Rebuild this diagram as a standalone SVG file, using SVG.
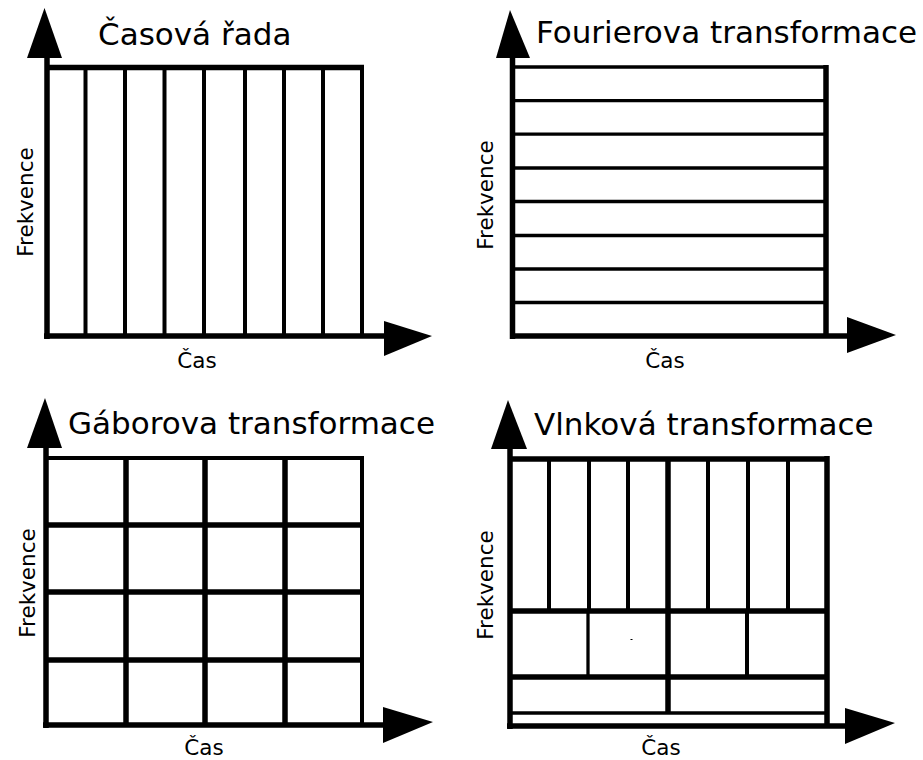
<svg xmlns="http://www.w3.org/2000/svg" width="923" height="760" viewBox="0 0 923 760">
<style>
.title{font-family:"DejaVu Sans",Verdana,sans-serif;font-size:31px;fill:#000}
.lab{font-family:"DejaVu Sans",Verdana,sans-serif;font-size:21.5px;fill:#000}
.ax{stroke:#000;stroke-width:5.5;fill:none}
.g{stroke:#000;stroke-width:4;fill:none}
.gt{stroke:#000;stroke-width:3.3;fill:none}
.gk{stroke:#000;stroke-width:5.5;fill:none}
.head{fill:#000}
</style>
<rect width="923" height="760" fill="#fff"/>

<g id="casova-rada">
  <text class="title" x="98" y="45">Časová řada</text>
  <g class="g">
    <line x1="85.5" y1="67" x2="85.5" y2="336"/>
    <line x1="125" y1="67" x2="125" y2="336"/>
    <line x1="164.5" y1="67" x2="164.5" y2="336"/>
    <line x1="204" y1="67" x2="204" y2="336"/>
    <line x1="245" y1="67" x2="245" y2="336"/>
    <line x1="284" y1="67" x2="284" y2="336"/>
    <line x1="323" y1="67" x2="323" y2="336"/>
    <line x1="362" y1="67" x2="362" y2="336"/>
  </g>
  <line class="ax" x1="45" y1="67.5" x2="364" y2="67.5" stroke-width="5"/>
  <line class="ax" x1="47" y1="339" x2="47" y2="55"/>
  <line class="ax" x1="44" y1="336" x2="388" y2="336"/>
  <polygon class="head" points="27,58 62,58 44.5,8"/>
  <polygon class="head" points="384,321 384,356 432,336"/>
  <text class="lab" x="197" y="368" text-anchor="middle">Čas</text>
  <text class="lab" transform="translate(33,202) rotate(-90)" text-anchor="middle">Frekvence</text>
</g>

<g id="fourierova-transformace">
  <text class="title" x="536" y="43">Fourierova transformace</text>
  <g class="gt">
    <line x1="512" y1="67" x2="826" y2="67"/>
    <line x1="512" y1="100.6" x2="826" y2="100.6"/>
    <line x1="512" y1="134.2" x2="826" y2="134.2"/>
    <line x1="512" y1="168" x2="826" y2="168"/>
    <line x1="512" y1="201.5" x2="826" y2="201.5"/>
    <line x1="512" y1="235.5" x2="826" y2="235.5"/>
    <line x1="512" y1="269" x2="826" y2="269"/>
    <line x1="512" y1="302.5" x2="826" y2="302.5"/>
  </g>
  <line class="gk" x1="826" y1="65" x2="826" y2="336"/>
  <line class="ax" x1="512.5" y1="339" x2="512.5" y2="55"/>
  <line class="ax" x1="510" y1="336" x2="850" y2="336"/>
  <polygon class="head" points="496,58 530,58 510,10"/>
  <polygon class="head" points="847,317 847,353 896,335"/>
  <text class="lab" x="665" y="368" text-anchor="middle">Čas</text>
  <text class="lab" transform="translate(493,195) rotate(-90)" text-anchor="middle">Frekvence</text>
</g>

<g id="gaborova-transformace">
  <text class="title" x="68" y="434">Gáborova transformace</text>
  <line class="g" x1="46" y1="458" x2="362" y2="458"/>
  <line class="g" x1="362" y1="456" x2="362" y2="725"/>
  <g class="gk" stroke-width="6">
    <line x1="126" y1="458" x2="126" y2="725"/>
    <line x1="205" y1="458" x2="205" y2="725"/>
    <line x1="285" y1="458" x2="285" y2="725"/>
    <line x1="46" y1="525" x2="362" y2="525"/>
    <line x1="46" y1="592" x2="362" y2="592"/>
    <line x1="46" y1="660" x2="362" y2="660"/>
  </g>
  <line class="ax" x1="46" y1="728" x2="46" y2="445"/>
  <line class="ax" x1="43" y1="725" x2="386" y2="725" stroke-width="6"/>
  <polygon class="head" points="27,448 62,448 45,398"/>
  <polygon class="head" points="383,707 383,743 433,722"/>
  <text class="lab" x="204" y="755" text-anchor="middle">Čas</text>
  <text class="lab" transform="translate(35,583) rotate(-90)" text-anchor="middle">Frekvence</text>
</g>

<g id="vlnkova-transformace">
  <text class="title" x="534" y="435">Vlnková transformace</text>
  <g class="g">
    <line x1="549" y1="459" x2="549" y2="611"/>
    <line x1="589" y1="459" x2="589" y2="611"/>
    <line x1="628" y1="459" x2="628" y2="611"/>
    <line x1="708" y1="459" x2="708" y2="611"/>
    <line x1="748" y1="459" x2="748" y2="611"/>
    <line x1="788" y1="459" x2="788" y2="611"/>
    <line x1="588" y1="611" x2="588" y2="677" stroke-width="3.3"/>
    <line x1="747" y1="611" x2="747" y2="677"/>
  </g>
  <line class="gk" x1="668" y1="459" x2="668" y2="713"/>
  <line class="gt" x1="510" y1="713" x2="827" y2="713"/>
  <line class="gk" x1="510" y1="611" x2="827" y2="611" stroke-width="5"/>
  <line class="gk" x1="510" y1="677" x2="827" y2="677" stroke-width="5"/>
  <line class="gk" x1="508" y1="459" x2="829" y2="459" stroke-width="6"/>
  <line class="gk" x1="827" y1="456" x2="827" y2="726"/>
  <rect x="630.5" y="639" width="2" height="1" fill="#000"/>
  <line class="ax" x1="510" y1="729" x2="510" y2="446"/>
  <line class="ax" x1="507" y1="726" x2="848" y2="726"/>
  <polygon class="head" points="491,449 527,449 508,400"/>
  <polygon class="head" points="845,708 845,744 895,723"/>
  <text class="lab" x="661" y="755" text-anchor="middle">Čas</text>
  <text class="lab" transform="translate(493,585) rotate(-90)" text-anchor="middle">Frekvence</text>
</g>
</svg>
